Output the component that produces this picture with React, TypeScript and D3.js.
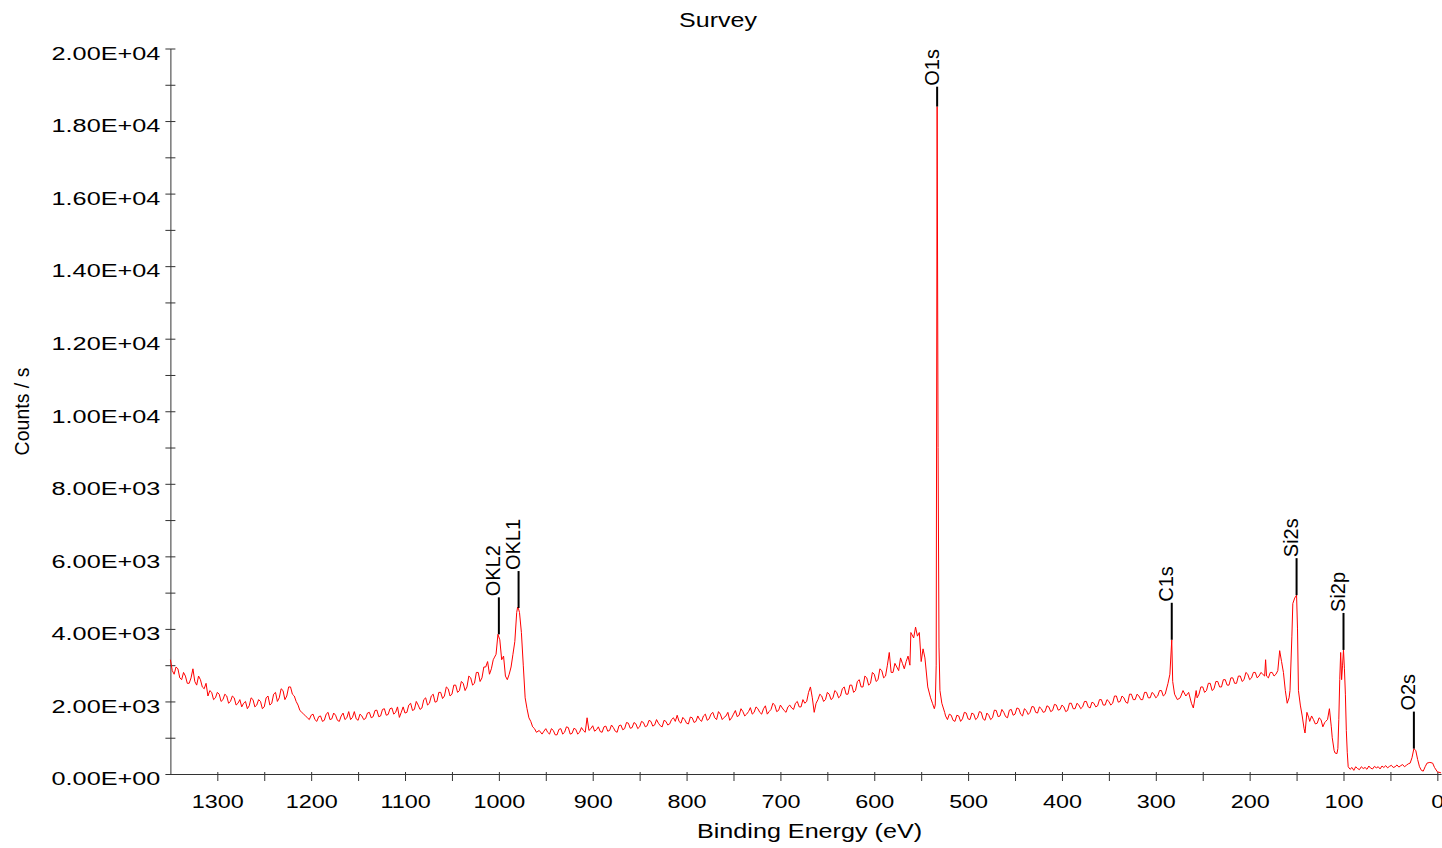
import { useRef, useEffect } from 'react';
import * as d3 from 'd3';

type Pt = [number, number]; // [binding energy (eV), counts/s]

// high binding energy background, 1350 -> 1206 eV
const highBE: Pt[] = [
  [1350, 3150], [1348, 2850], [1346, 2750], [1344, 2950], [1342, 2900], [1340, 2650],
  [1338, 2600], [1336, 2800], [1334, 2700], [1332, 2500], [1330, 2500], [1328, 2650],
  [1326, 2900], [1324, 2550], [1322, 2450], [1320, 2700], [1318, 2600], [1316, 2400],
  [1314, 2350], [1312, 2500], [1310, 2150], [1308, 2300], [1306, 2250], [1304, 2050],
  [1302, 2100], [1300, 2250], [1298, 2200], [1296, 2000], [1294, 2050], [1292, 2200],
  [1290, 2150], [1288, 1950], [1286, 2000], [1284, 2150], [1282, 2100], [1280, 1900],
  [1278, 1950], [1276, 2050], [1274, 1850], [1272, 1950], [1270, 2000], [1268, 1800],
  [1266, 1880], [1264, 2100], [1262, 2050], [1260, 1850], [1258, 1900], [1256, 2050],
  [1254, 2000], [1252, 1800], [1250, 1850], [1248, 2100], [1246, 2150], [1244, 1900],
  [1242, 1950], [1240, 2200], [1238, 2250], [1236, 2000], [1234, 2100], [1232, 2350],
  [1230, 2300], [1228, 2050], [1226, 2150], [1224, 2400], [1222, 2400], [1220, 2200],
  [1218, 2150], [1216, 2000], [1214, 1900], [1212, 1750], [1210, 1700], [1208, 1650],
  [1206, 1600]
];

// rising background towards the O KLL lines
const preAuger: Pt[] = [
  [1204, 1550], [1202, 1500], [1200, 1620], [1198, 1650], [1196, 1500], [1194, 1450],
  [1192, 1580], [1190, 1600], [1188, 1450], [1186, 1480], [1184, 1650], [1182, 1700],
  [1180, 1500], [1178, 1520], [1176, 1680], [1174, 1620], [1172, 1480], [1170, 1450],
  [1168, 1600], [1166, 1680], [1164, 1500], [1162, 1550], [1160, 1720], [1158, 1500],
  [1156, 1560], [1154, 1720], [1152, 1520], [1150, 1480], [1148, 1650], [1146, 1600],
  [1144, 1500], [1142, 1530], [1140, 1680], [1138, 1700], [1136, 1550], [1134, 1580],
  [1132, 1750], [1130, 1760], [1128, 1580], [1126, 1600], [1124, 1780], [1122, 1800],
  [1120, 1620], [1118, 1640], [1116, 1800], [1114, 1820], [1112, 1650], [1110, 1700],
  [1108, 1850], [1106, 1560], [1104, 1700], [1102, 1850], [1100, 1680], [1098, 1700],
  [1096, 1900], [1094, 1950], [1092, 1750], [1090, 1780], [1088, 2000], [1086, 1900],
  [1084, 1780], [1082, 1820], [1080, 2050], [1078, 2100], [1076, 1900], [1074, 1950],
  [1072, 2150], [1070, 2200], [1068, 1980], [1066, 2000], [1064, 2250], [1062, 2250],
  [1060, 2080], [1058, 2150], [1056, 2400], [1054, 2350], [1052, 2150], [1050, 2200],
  [1048, 2450], [1046, 2450], [1044, 2250], [1042, 2300], [1040, 2550], [1038, 2500],
  [1036, 2300], [1034, 2400], [1032, 2700], [1030, 2650], [1028, 2450], [1026, 2500],
  [1024, 2800], [1022, 2800], [1020, 2550], [1018, 2650], [1016, 2950], [1014, 2950],
  [1012, 3100], [1010, 2750], [1008, 2900], [1006, 3150], [1005, 3200]
];

// O KLL Auger lines
const augerO: Pt[] = [
  [1003, 3300], [1001, 3850], [999, 3700], [997, 3150], [995, 3250], [993, 2700],
  [991, 2600], [989, 2750], [987, 2950], [985, 3300], [983, 3650], [981, 4450],
  [980, 4600], [979, 4550], [978, 4450], [976, 3900], [974, 3000], [972, 2100],
  [970, 1800], [968, 1550], [966, 1450], [964, 1300], [962, 1250], [960, 1150],
  [957, 1200], [954, 1100], [952, 1180]
];

// 950 -> 536 eV, inelastic background of O1s
const midBE: Pt[] = [
  [950, 1250], [948, 1150], [946, 1100], [944, 1250], [942, 1200], [940, 1080],
  [938, 1080], [936, 1230], [934, 1250], [932, 1100], [930, 1150], [928, 1300],
  [926, 1280], [924, 1100], [922, 1120], [920, 1260], [918, 1230], [916, 1100],
  [914, 1150], [912, 1280], [910, 1200], [908, 1150], [906, 1550], [904, 1200],
  [902, 1250], [900, 1330], [898, 1180], [896, 1220], [894, 1300], [892, 1170],
  [890, 1150], [888, 1300], [886, 1320], [884, 1180], [882, 1200], [880, 1350],
  [878, 1280], [876, 1180], [874, 1150], [872, 1330], [870, 1350], [868, 1220],
  [866, 1250], [864, 1420], [862, 1400], [860, 1260], [858, 1280], [856, 1420],
  [854, 1380], [852, 1250], [850, 1300], [848, 1450], [846, 1420], [844, 1300],
  [842, 1330], [840, 1480], [838, 1450], [836, 1320], [834, 1350], [832, 1500],
  [830, 1400], [828, 1330], [826, 1300], [824, 1480], [822, 1450], [820, 1350],
  [818, 1380], [816, 1500], [814, 1550], [812, 1450], [810, 1620], [808, 1450],
  [806, 1400], [804, 1560], [802, 1500], [800, 1400], [798, 1380], [796, 1570],
  [794, 1550], [792, 1420], [790, 1450], [788, 1600], [786, 1500], [784, 1450],
  [782, 1600], [780, 1650], [778, 1480], [776, 1520], [774, 1650], [772, 1700],
  [770, 1550], [768, 1500], [766, 1720], [764, 1650], [762, 1500], [760, 1560],
  [758, 1600], [756, 1700], [754, 1480], [752, 1550], [750, 1650], [748, 1750],
  [746, 1580], [744, 1620], [742, 1800], [740, 1720], [738, 1600], [736, 1650],
  [734, 1720], [732, 1830], [730, 1650], [728, 1700], [726, 1850], [724, 1800],
  [722, 1700], [720, 1650], [718, 1800], [716, 1880], [714, 1650], [712, 1720],
  [710, 1780], [708, 1950], [706, 1900], [704, 1720], [702, 1750], [700, 1900],
  [698, 1820], [696, 1750], [694, 1700], [692, 1850], [690, 1900], [688, 1820],
  [686, 1780], [684, 1950], [682, 2000], [680, 1850], [678, 1850], [676, 2050],
  [674, 1950], [672, 2000], [670, 2250], [668, 2400], [666, 2100], [664, 1700],
  [662, 1950], [660, 2050], [658, 2200], [656, 2150], [654, 2000], [652, 2050],
  [650, 2250], [648, 2200], [646, 2050], [644, 2100], [642, 2300], [640, 2250],
  [638, 2100], [636, 2150], [634, 2350], [632, 2400], [630, 2200], [628, 2200],
  [626, 2450], [624, 2450], [622, 2250], [620, 2300], [618, 2550], [616, 2600],
  [614, 2400], [612, 2400], [610, 2700], [608, 2650], [606, 2450], [604, 2500],
  [602, 2800], [600, 2750], [598, 2550], [596, 2600], [594, 2900], [592, 2850],
  [590, 2650], [588, 2700], [586, 3000], [584, 3350], [582, 2800], [580, 2800],
  [578, 3050], [576, 2950], [574, 2850], [572, 3200], [570, 3050], [568, 2900],
  [566, 3100], [564, 3250], [562, 3000], [561, 3900], [558, 3750], [556, 4050],
  [554, 3800], [552, 3900], [550, 3100], [548, 3450], [546, 3200], [543, 2400],
  [540, 2100], [538, 1950], [536, 1800]
];

// O1s core line
const o1sPeak: Pt[] = [
  [535, 1900], [534, 3000], [533, 18400], [532, 9000], [531, 3500], [530, 2300], [528, 1950]
];

// 525 -> 0 eV: C1s, Si2s, Si2p, O2s
const lowBE: Pt[] = [
  [525, 1700], [524, 1600], [522, 1500], [520, 1650], [518, 1620], [516, 1480],
  [514, 1450], [512, 1620], [510, 1600], [508, 1450], [506, 1520], [504, 1700],
  [502, 1680], [500, 1520], [498, 1500], [496, 1680], [494, 1650], [492, 1500],
  [490, 1550], [488, 1720], [486, 1700], [484, 1520], [482, 1480], [480, 1680],
  [478, 1620], [476, 1500], [474, 1550], [472, 1760], [470, 1750], [468, 1580],
  [466, 1600], [464, 1780], [462, 1700], [460, 1580], [458, 1550], [456, 1760],
  [454, 1780], [452, 1620], [450, 1650], [448, 1820], [446, 1800], [444, 1650],
  [442, 1600], [440, 1800], [438, 1750], [436, 1640], [434, 1700], [432, 1860],
  [430, 1850], [428, 1700], [426, 1680], [424, 1850], [422, 1800], [420, 1700],
  [418, 1720], [416, 1880], [414, 1850], [412, 1720], [410, 1750], [408, 1920],
  [406, 1900], [404, 1760], [402, 1780], [400, 1900], [398, 1850], [396, 1720],
  [394, 1750], [392, 1950], [390, 1950], [388, 1800], [386, 1800], [384, 1950],
  [382, 1900], [380, 1800], [378, 1850], [376, 2000], [374, 2000], [372, 1850],
  [370, 1820], [368, 1980], [366, 1950], [364, 1850], [362, 1880], [360, 2050],
  [358, 2050], [356, 1900], [354, 1900], [352, 2050], [350, 2000], [348, 1900],
  [346, 1950], [344, 2150], [342, 2150], [340, 1980], [338, 2000], [336, 2150],
  [334, 2100], [332, 1980], [330, 1950], [328, 2200], [326, 2200], [324, 2050],
  [322, 2050], [320, 2200], [318, 2150], [316, 2050], [314, 2050], [312, 2250],
  [310, 2250], [308, 2100], [306, 2100], [304, 2250], [302, 2200], [300, 2100],
  [298, 2150], [296, 2300], [294, 2300], [292, 2150], [290, 2200], [287, 2500],
  [285, 2750], [283, 3700], [282, 2550], [280, 2200], [277, 2050], [274, 2100],
  [271, 2300], [268, 2150], [265, 2250], [262, 1950], [260, 1820], [257, 2300],
  [256, 2100], [254, 2200], [252, 2400], [250, 2400], [248, 2250], [246, 2300],
  [244, 2500], [242, 2500], [240, 2300], [238, 2350], [236, 2550], [234, 2550],
  [232, 2400], [230, 2400], [228, 2600], [226, 2600], [224, 2450], [222, 2450],
  [220, 2650], [218, 2650], [216, 2500], [214, 2500], [212, 2700], [210, 2700],
  [208, 2550], [206, 2600], [204, 2800], [202, 2750], [200, 2600], [198, 2650],
  [196, 2800], [194, 2800], [192, 2650], [190, 2700], [188, 2800], [186, 2750],
  [184, 2700], [183, 3150], [182, 2700], [180, 2650], [178, 2800], [176, 2800],
  [174, 2700], [172, 2750], [170, 2850], [168, 3400], [166, 3100], [164, 2800],
  [162, 2300], [160, 1950], [158, 2100], [157, 2300], [155, 3800], [154, 4700],
  [152, 4850], [150, 4930], [149, 4000], [148, 2300], [146, 1900], [144, 1600],
  [142, 1250], [141, 1130], [139, 1700], [137, 1550], [136, 1450], [134, 1600],
  [132, 1500], [130, 1380], [128, 1400], [126, 1550], [124, 1500], [122, 1300],
  [120, 1420], [119, 1450], [117, 1500], [115, 1800], [113, 1300], [112, 1000],
  [110, 650], [109, 580], [107, 560], [106, 700], [105, 1500], [104, 2600],
  [103, 3350], [102, 2600], [101, 3000], [100, 3420], [99, 2900], [98, 2200],
  [97, 1200], [96, 600], [95, 200], [93, 130], [91, 180], [89, 100],
  [87, 200], [85, 150], [83, 120], [81, 200], [79, 150], [77, 180],
  [75, 130], [73, 220], [71, 160], [69, 140], [67, 210], [65, 170],
  [63, 200], [61, 140], [59, 220], [57, 180], [55, 230], [53, 170],
  [51, 210], [49, 240], [47, 180], [45, 200], [43, 250], [41, 190],
  [39, 230], [37, 260], [35, 200], [33, 240], [31, 280], [29, 300],
  [27, 450], [25, 700], [23, 650], [21, 400], [19, 200], [17, 100],
  [15, 80], [13, 200], [11, 300], [8, 320], [5, 300], [3, 180],
  [0, 60], [-4, 30]
];

// peak identification markers
const peakLabels = ['OKL2', 'OKL1', 'O1s', 'C1s', 'Si2s', 'Si2p', 'O2s'];
const peakEnergies = [1000, 979, 533, 283, 150, 100, 25];
const peakCounts = [3850, 4575, 18400, 3700, 4930, 3420, 700];

const xTicks = d3.range(0, 1301, 50);
const yTicks = d3.range(0, 20001, 1000);

const FONT = '"Liberation Sans", Arial, Helvetica, sans-serif';

function sci(v: number) {
  if (v === 0) return '0.00E+00';
  const e = Math.floor(Math.log10(v));
  const m = v / Math.pow(10, e);
  return m.toFixed(2) + 'E+' + String(e).padStart(2, '0');
}

export default function App() {
  const ref = useRef<SVGSVGElement>(null);

  useEffect(() => {
    if (!ref.current) return;
    const width = 1442;
    const height = 848;
    const svg = d3.select(ref.current);
    svg.selectAll('*').remove();

    const spectrum = [...highBE, ...preAuger, ...augerO, ...midBE, ...o1sPeak, ...lowBE]
      .sort((a, b) => b[0] - a[0]);

    const x = d3.scaleLinear().domain([1350, -4]).range([170.4, 1441.1]);
    const y = d3.scaleLinear().domain([0, 20000]).range([774, 48.5]);

    svg.append('rect').attr('width', width).attr('height', height).attr('fill', '#fff');

    // title
    svg.append('text')
      .attr('transform', 'translate(718,27) scale(1.25,1)')
      .attr('text-anchor', 'middle')
      .attr('font-family', FONT)
      .attr('font-size', 20)
      .text('Survey');

    // y axis
    const gy = svg.append('g')
      .attr('transform', `translate(${x(1350)},0)`)
      .call(d3.axisLeft(y).tickValues(yTicks).tickSize(5).tickSizeOuter(0)
        .tickFormat(d => (+d % 2000 === 0 ? sci(+d) : '')));
    gy.select('.domain').attr('stroke', '#333');
    gy.selectAll('.tick line').attr('x1', 5).attr('x2', -5).attr('stroke', '#333');
    gy.selectAll('.tick text')
      .attr('x', null).attr('dy', null).attr('y', null)
      .attr('transform', 'translate(-10,10.8) scale(1.33,1)')
      .attr('text-anchor', 'end')
      .attr('font-family', FONT)
      .attr('font-size', 19)
      .attr('fill', '#000');

    // x axis
    const gx = svg.append('g')
      .attr('transform', `translate(0,${y(0)})`)
      .call(d3.axisBottom(x).tickValues(xTicks).tickSize(7).tickSizeOuter(0)
        .tickFormat(d => (+d % 100 === 0 ? String(d) : '')));
    gx.select('.domain').attr('stroke', '#333');
    gx.selectAll('.tick line').attr('y1', -2).attr('y2', 7).attr('stroke', '#333');
    gx.selectAll('.tick text')
      .attr('y', null).attr('dy', null)
      .attr('transform', 'translate(0,34) scale(1.23,1)')
      .attr('font-family', FONT)
      .attr('font-size', 19)
      .attr('fill', '#000');

    // axis titles
    svg.append('text')
      .attr('transform', 'translate(809.5,838) scale(1.29,1)')
      .attr('text-anchor', 'middle')
      .attr('font-family', FONT)
      .attr('font-size', 19.5)
      .text('Binding Energy (eV)');

    svg.append('text')
      .attr('transform', 'translate(28.6,411.5) rotate(-90)')
      .attr('text-anchor', 'middle')
      .attr('font-family', FONT)
      .attr('font-size', 19.5)
      .text('Counts / s');

    // spectrum
    const line = d3.line<Pt>().x(d => x(d[0])).y(d => y(d[1]));
    svg.append('path')
      .datum(spectrum)
      .attr('fill', 'none')
      .attr('stroke', '#ff0000')
      .attr('stroke-width', 1)
      .attr('d', line);

    // peak markers
    peakLabels.forEach((label, i) => {
      const px = x(peakEnergies[i]);
      const py = y(peakCounts[i]);
      const t = svg.append('text')
        .attr('text-anchor', 'start')
        .attr('font-family', FONT)
        .attr('font-size', 20)
        .text(label);
      const len = (t.node() as SVGTextElement).getComputedTextLength();
      let top = py - 37;
      if (top - len < 50) top = 50 + len; // keep label inside the top
      t.attr('transform', `translate(${px + 1.5},${top - 1}) rotate(-90)`);
      svg.append('line')
        .attr('x1', px).attr('x2', px)
        .attr('y1', py).attr('y2', top)
        .attr('stroke', '#000')
        .attr('stroke-width', 2);
    });
  }, []);

  return (
    <svg
      ref={ref}
      width={1442}
      height={848}
      style={{ position: 'absolute', left: 0, top: 0, display: 'block' }}
    />
  );
}
